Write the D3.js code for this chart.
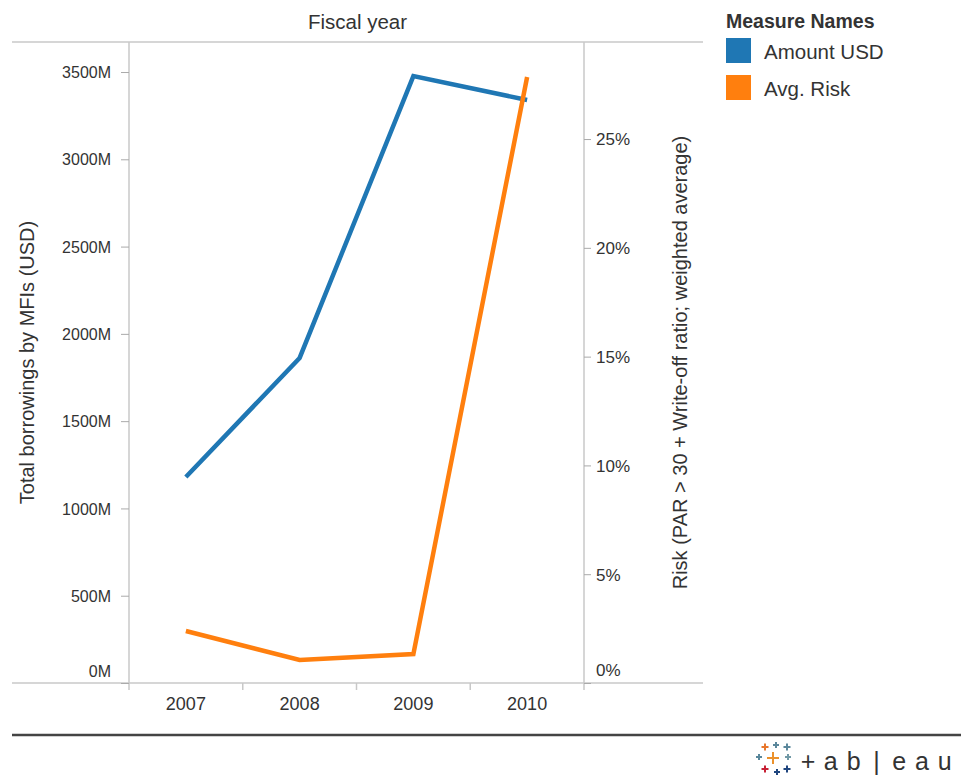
<!DOCTYPE html>
<head>
    <meta charset="utf-8">
    <style>
        body { margin: 0; background: white; }
        svg { background-color: white; }
        text { font-family: Arial, "Liberation Sans", sans-serif; fill: #333; }
        .grid { stroke: #c8c8c8; stroke-width: 1.5; }
    </style>
</head>
<body>
<script src="https://d3js.org/d3.v7.min.js"></script>
<script>

const width = 961;
const height = 776;

// data
const years = ['2007', '2008', '2009', '2010'];
const amountUSD = [1180, 1862, 3477, 3340];      // millions
const avgRisk = [0.0239, 0.0106, 0.0133, 0.2785];
const amountTicks = [0, 500, 1000, 1500, 2000, 2500, 3000, 3500];
const riskTicks = [0, 0.05, 0.10, 0.15, 0.20, 0.25];
const legendNames = ['Amount USD', 'Avg. Risk'];
const colors = ['#1f77b4', '#ff7f0e'];

const plotLeft = 129;
const plotRight = 584;
const plotTop = 42;
const plotBottom = 683;

const svg = d3.select('body').append('svg')
    .attr('width', width)
    .attr('height', height);

const x = d3.scaleBand().domain(years).range([plotLeft, plotRight]);
const yL = d3.scaleLinear().domain([0, 3672]).range([plotBottom, plotTop]);
const yR = d3.scaleLinear().domain([0, 0.2946]).range([plotBottom, plotTop]);

// frame lines
svg.append('line').attr('class', 'grid')
    .attr('x1', 12).attr('x2', 703).attr('y1', plotTop).attr('y2', plotTop);
svg.append('line').attr('class', 'grid')
    .attr('x1', 12).attr('x2', 703).attr('y1', plotBottom).attr('y2', plotBottom);
svg.append('line').attr('class', 'grid')
    .attr('x1', plotLeft).attr('x2', plotLeft).attr('y1', plotTop).attr('y2', plotBottom + 7);
svg.append('line').attr('class', 'grid')
    .attr('x1', plotRight).attr('x2', plotRight).attr('y1', plotTop).attr('y2', plotBottom + 7);

// column ticks between years
years.slice(1).forEach(d => {
    svg.append('line').attr('class', 'grid')
        .attr('x1', x(d)).attr('x2', x(d))
        .attr('y1', plotBottom).attr('y2', plotBottom + 7);
});

svg.append('text')
    .attr('x', (plotLeft + plotRight) / 2 + 1).attr('y', 29)
    .attr('text-anchor', 'middle')
    .style('font-size', '20.5px')
    .text('Fiscal year');

// left axis
const gL = svg.append('g')
    .attr('transform', `translate(${plotLeft},0)`)
    .call(d3.axisLeft(yL).tickValues(amountTicks).tickSize(8).tickPadding(10)
        .tickFormat(d => d + 'M'));
gL.select('.domain').remove();
gL.selectAll('line').attr('stroke', '#aaa');
gL.selectAll('text').style('font-size', '16px').attr('fill', '#333')
    .attr('dy', (d, i) => i === 0 ? '-0.38em' : '0.35em');

// right axis
const gR = svg.append('g')
    .attr('transform', `translate(${plotRight},0)`)
    .call(d3.axisRight(yR).tickValues(riskTicks).tickSize(7).tickPadding(5)
        .tickFormat(d3.format('.0%')));
gR.select('.domain').remove();
gR.selectAll('line').attr('stroke', '#aaa');
gR.selectAll('text').style('font-size', '17px').attr('fill', '#333')
    .attr('dy', (d, i) => i === 0 ? '-0.45em' : '0.35em');

// year labels
svg.selectAll('.year').data(years).join('text')
    .attr('class', 'year')
    .attr('x', d => x(d) + x.bandwidth() / 2)
    .attr('y', plotBottom + 27)
    .attr('text-anchor', 'middle')
    .style('font-size', '18px')
    .text(d => d);

// axis titles
svg.append('text')
    .attr('transform', `translate(34,${(plotTop + plotBottom) / 2}) rotate(-90)`)
    .attr('text-anchor', 'middle')
    .style('font-size', '20px')
    .text('Total borrowings by MFIs (USD)');
svg.append('text')
    .attr('transform', `translate(687,${(plotTop + plotBottom) / 2}) rotate(-90)`)
    .attr('text-anchor', 'middle')
    .style('font-size', '20px')
    .text('Risk (PAR > 30 + Write-off ratio; weighted average)');

// lines
const cx = d => x(d) + x.bandwidth() / 2;
const lineL = d3.line().x((d, i) => cx(years[i])).y(d => yL(d));
const lineR = d3.line().x((d, i) => cx(years[i])).y(d => yR(d));

svg.append('path').datum(amountUSD)
    .attr('d', lineL)
    .attr('fill', 'none').attr('stroke', colors[0]).attr('stroke-width', 4.5);
svg.append('path').datum(avgRisk)
    .attr('d', lineR)
    .attr('fill', 'none').attr('stroke', colors[1]).attr('stroke-width', 4.5);

// legend
svg.append('text')
    .attr('x', 726).attr('y', 28)
    .style('font-size', '19.5px').style('font-weight', 'bold').attr('fill', '#111')
    .text('Measure Names');
legendNames.forEach((n, i) => {
    svg.append('rect')
        .attr('x', 726).attr('y', 38 + i * 37)
        .attr('width', 25).attr('height', 25)
        .attr('fill', colors[i]);
    svg.append('text')
        .attr('x', 764).attr('y', 59 + i * 37)
        .style('font-size', '20.5px')
        .text(n);
});

// footer
svg.append('line')
    .attr('x1', 12).attr('x2', width).attr('y1', 735).attr('y2', 735)
    .attr('stroke', '#444').attr('stroke-width', 2.5);

// tableau logo
const logo = svg.append('g').attr('transform', 'translate(755,743)');
const crosses = [
    [10, 4, 3.5, '#e8762b'], [21, 2, 3, '#5b879b'], [32, 4, 3.5, '#5b879b'],
    [4, 14, 3, '#59879b'], [18, 15, 6, '#eb912b'], [33, 14, 3, '#7199a6'],
    [10, 26, 3.5, '#c72035'], [22, 29, 3, '#1f457e'], [32, 26, 3.5, '#1f457e']
];
crosses.forEach(c => {
    logo.append('path')
        .attr('d', `M${c[0] - c[2]},${c[1]}h${c[2] * 2}M${c[0]},${c[1] - c[2]}v${c[2] * 2}`)
        .attr('stroke', c[3]).attr('stroke-width', 2);
});
['+', 'a', 'b', '|', 'e', 'a', 'u'].forEach((ch, i) => {
    logo.append('text')
        .attr('x', 53 + i * 22.8).attr('y', 27)
        .attr('text-anchor', 'middle')
        .style('font-size', '25px')
        .attr('fill', '#1f447e')
        .text(ch);
});

</script>
</body>
</html>
